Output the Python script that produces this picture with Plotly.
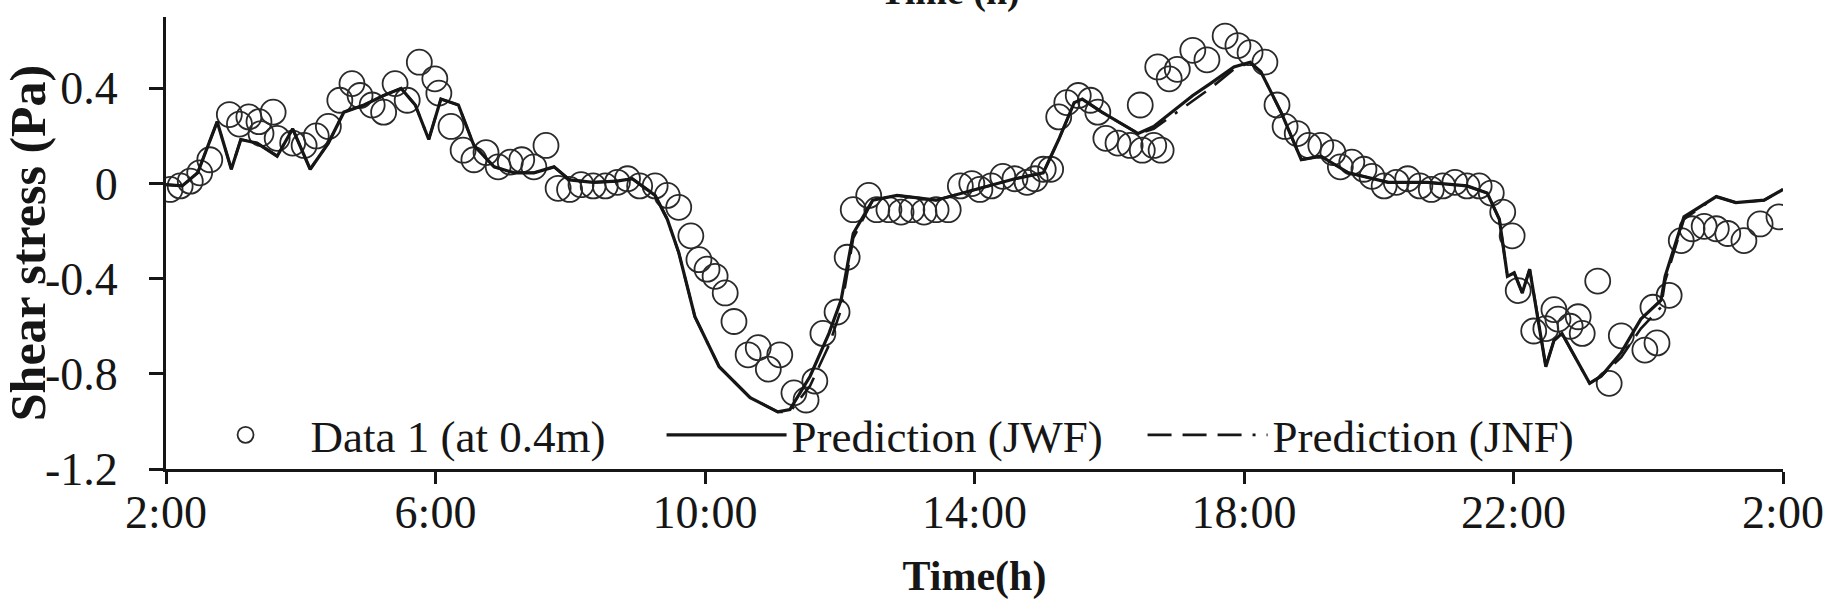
import plotly.graph_objects as go

# Measured shear stress at 0.4 m (hour of day, Pa); hours past 24 are the next day
obs_hours = [
    2.06, 2.21, 2.36, 2.50, 2.65, 2.94, 3.09, 3.23, 3.38, 3.41, 3.59, 3.65, 3.88, 4.05,
    4.23, 4.41, 4.58, 4.76, 4.88, 5.06, 5.23, 5.40, 5.58, 5.76, 5.99, 6.05, 6.23, 6.41,
    6.57, 6.75, 6.93, 7.11, 7.28, 7.46, 7.64, 7.82, 7.99, 8.16, 8.34, 8.52, 8.70, 8.85,
    9.03, 9.26, 9.44, 9.61, 9.79, 9.91, 10.03, 10.15, 10.30, 10.43, 10.64, 10.79, 10.94,
    11.11, 11.32, 11.50, 11.63, 11.75, 11.96, 12.11, 12.20, 12.43, 12.55, 12.73, 12.91,
    13.07, 13.25, 13.43, 13.61, 13.79, 13.96, 14.08, 14.25, 14.42, 14.60, 14.78, 14.90,
    15.02, 15.13, 15.25, 15.37, 15.54, 15.72, 15.83, 15.95, 16.13, 16.31, 16.46, 16.49,
    16.66, 16.72, 16.77, 16.89, 17.01, 17.24, 17.45, 17.72, 17.91, 18.09, 18.31, 18.49,
    18.61, 18.79, 18.96, 19.14, 19.32, 19.43, 19.60, 19.78, 19.90, 20.08, 20.26, 20.43,
    20.61, 20.78, 20.95, 21.13, 21.31, 21.49, 21.67, 21.84, 21.98, 22.07, 22.30, 22.48,
    22.60, 22.66, 22.84, 22.96, 23.02, 23.25, 23.42, 23.60, 23.95, 24.07, 24.13, 24.31,
    24.49, 24.65, 24.83, 25.01, 25.18, 25.42, 25.66, 25.94,
]
obs_stress = [
    -0.025, -0.01, 0.01, 0.045, 0.10, 0.29, 0.25, 0.28, 0.26, 0.21, 0.30, 0.19, 0.17, 0.16,
    0.20, 0.24, 0.35, 0.42, 0.37, 0.33, 0.30, 0.42, 0.35, 0.51, 0.44, 0.38, 0.24, 0.14,
    0.10, 0.13, 0.07, 0.09, 0.10, 0.07, 0.16, -0.02, -0.025, -0.005, -0.01, -0.01, 0.005, 0.02,
    -0.01, -0.01, -0.05, -0.10, -0.22, -0.32, -0.36, -0.39, -0.46, -0.58, -0.72, -0.69, -0.78,
    -0.72, -0.88, -0.91, -0.83, -0.63, -0.54, -0.31, -0.11, -0.05, -0.11, -0.11, -0.12,
    -0.11, -0.12, -0.11, -0.11, -0.01, 0.00, -0.025, -0.01, 0.03, 0.02, 0.005, 0.02,
    0.06, 0.06, 0.28, 0.34, 0.37, 0.35, 0.30, 0.19, 0.17, 0.16, 0.33, 0.14,
    0.16, 0.49, 0.14, 0.44, 0.48, 0.56, 0.52, 0.62, 0.58, 0.55, 0.51, 0.33,
    0.24, 0.21, 0.16, 0.16, 0.13, 0.07, 0.09, 0.06, 0.03, -0.01, 0.005, 0.02,
    -0.01, -0.025, -0.01, 0.005, -0.01, -0.01, -0.04, -0.12, -0.22, -0.45, -0.62, -0.61,
    -0.53, -0.57, -0.60, -0.56, -0.63, -0.41, -0.84, -0.64, -0.70, -0.52, -0.67, -0.47,
    -0.24, -0.19, -0.18, -0.19, -0.21, -0.24, -0.17, -0.14,
]

# Model predictions (JWF and JNF) on a shared time base
pred_hours = [
    2.00, 2.24, 2.47, 2.76, 2.97, 3.11, 3.35, 3.65, 3.88, 4.14, 4.41, 4.64, 4.94, 5.23,
    5.49, 5.70, 5.90, 6.08, 6.34, 6.57, 6.87, 7.17, 7.46, 7.76, 7.99, 8.34, 8.69, 8.92,
    9.26, 9.44, 9.61, 9.85, 10.21, 10.67, 11.08, 11.26, 11.56, 11.84, 12.02, 12.20, 12.49,
    12.85, 13.43, 14.02, 14.60, 15.02, 15.25, 15.48, 15.60, 15.89, 16.43, 16.66, 17.24,
    17.50, 17.85, 18.09, 18.25, 18.55, 18.85, 19.14, 19.55, 20.14, 20.72, 21.31, 21.61,
    21.79, 21.91, 22.01, 22.13, 22.24, 22.36, 22.48, 22.60, 22.72, 23.13, 23.30, 23.60,
    23.89, 24.19, 24.25, 24.53, 25.01, 25.30, 25.72, 26.00,
]
jwf_stress = [
    -0.005, -0.01, 0.045, 0.26, 0.06, 0.185, 0.17, 0.115, 0.23, 0.06, 0.17, 0.30, 0.33, 0.37,
    0.40, 0.33, 0.185, 0.355, 0.33, 0.16, 0.07, 0.045, 0.045, 0.07, 0.015, 0.005, 0.01, 0.02,
    -0.05, -0.15, -0.29, -0.56, -0.77, -0.90, -0.96, -0.95, -0.81, -0.63, -0.49, -0.21, -0.07,
    -0.05, -0.07, -0.025, 0.02, 0.045, 0.185, 0.34, 0.355, 0.30, 0.21, 0.24, 0.37,
    0.42, 0.49, 0.51, 0.47, 0.30, 0.10, 0.115, 0.045, 0.005, 0.005, -0.01, -0.04,
    -0.15, -0.39, -0.375, -0.46, -0.36, -0.56, -0.77, -0.66, -0.63, -0.84, -0.81, -0.71,
    -0.57, -0.49, -0.39, -0.14, -0.055, -0.08, -0.07, -0.025,
]
jnf_stress = [
    -0.005, -0.01, 0.045, 0.26, 0.06, 0.185, 0.17, 0.115, 0.23, 0.06, 0.17, 0.30, 0.33, 0.37,
    0.40, 0.33, 0.185, 0.355, 0.33, 0.16, 0.07, 0.045, 0.045, 0.07, 0.015, 0.005, 0.01, 0.02,
    -0.05, -0.15, -0.29, -0.56, -0.77, -0.90, -0.96, -0.96, -0.85, -0.68, -0.53, -0.23, -0.07,
    -0.05, -0.07, -0.025, 0.02, 0.045, 0.185, 0.34, 0.355, 0.30, 0.21, 0.23, 0.35,
    0.40, 0.48, 0.51, 0.47, 0.30, 0.10, 0.115, 0.045, 0.005, 0.005, -0.01, -0.04,
    -0.15, -0.39, -0.375, -0.46, -0.36, -0.56, -0.77, -0.66, -0.63, -0.84, -0.81, -0.73,
    -0.61, -0.52, -0.41, -0.15, -0.055, -0.08, -0.07, -0.025,
]

x_tick_vals = [2, 6, 10, 14, 18, 22, 26]
x_tick_text = ["2:00", "6:00", "10:00", "14:00", "18:00", "22:00", "2:00"]
y_tick_vals = [-1.2, -0.8, -0.4, 0, 0.4]
y_tick_text = ["-1.2", "-0.8", "-0.4", "0", "0.4"]

SERIF = "Liberation Serif, Times New Roman, serif"
INK = "#161616"

fig = go.Figure()
fig.add_trace(go.Scatter(
    x=obs_hours, y=obs_stress, mode="markers", name="Data 1 (at 0.4m)",
    marker=dict(symbol="circle-open", size=25, color="#2a2a2a", line=dict(width=1.8)),
))
fig.add_trace(go.Scatter(
    x=pred_hours, y=jwf_stress, mode="lines", name="Prediction (JWF)",
    line=dict(color=INK, width=3.2),
))
fig.add_trace(go.Scatter(
    x=pred_hours, y=jnf_stress, mode="lines", name="Prediction (JNF)",
    line=dict(color=INK, width=2.6, dash="24px,11px,24px,11px,24px,11px,3px,11px"),
))

fig.update_layout(
    width=1830, height=610,
    margin=dict(l=166, r=47, t=17, b=141),
    paper_bgcolor="white", plot_bgcolor="white",
    font=dict(family=SERIF, color=INK, size=46),
    showlegend=True,
    legend=dict(
        orientation="h", x=0.009, y=0.075, xanchor="left", yanchor="middle",
        bgcolor="rgba(0,0,0,0)", font=dict(size=45, family=SERIF, color=INK),
        itemwidth=120, tracegroupgap=0,
        entrywidth=346, entrywidthmode="pixels",
    ),
    xaxis=dict(
        range=[2, 26], tickmode="array", tickvals=x_tick_vals, ticktext=x_tick_text,
        showline=True, linecolor=INK, linewidth=3, ticks="outside", ticklen=12,
        tickwidth=3, tickcolor=INK, showgrid=False, zeroline=False, automargin=False,
        tickfont=dict(size=46), ticklabelstandoff=-11,
        title=dict(text="<b>Time(h)</b>", font=dict(size=42), standoff=24),
    ),
    yaxis=dict(
        range=[-1.2, 0.7], tickmode="array", tickvals=y_tick_vals, ticktext=y_tick_text,
        showline=True, linecolor=INK, linewidth=3, ticks="outside", ticklen=14,
        tickwidth=3, tickcolor=INK, showgrid=False, zeroline=False, automargin=False,
        tickfont=dict(size=46), ticklabelstandoff=22,
        title=dict(text="<b>Shear stress (Pa)</b>", font=dict(size=50), standoff=0),
    ),
    annotations=[
        dict(text="<b>Time (h)</b>", xref="paper", yref="paper", x=0.485, y=1.0,
             xanchor="center", yanchor="bottom", yshift=2, showarrow=False,
             font=dict(size=38, family=SERIF, color=INK)),
    ],
)

fig.write_html("out.html")
